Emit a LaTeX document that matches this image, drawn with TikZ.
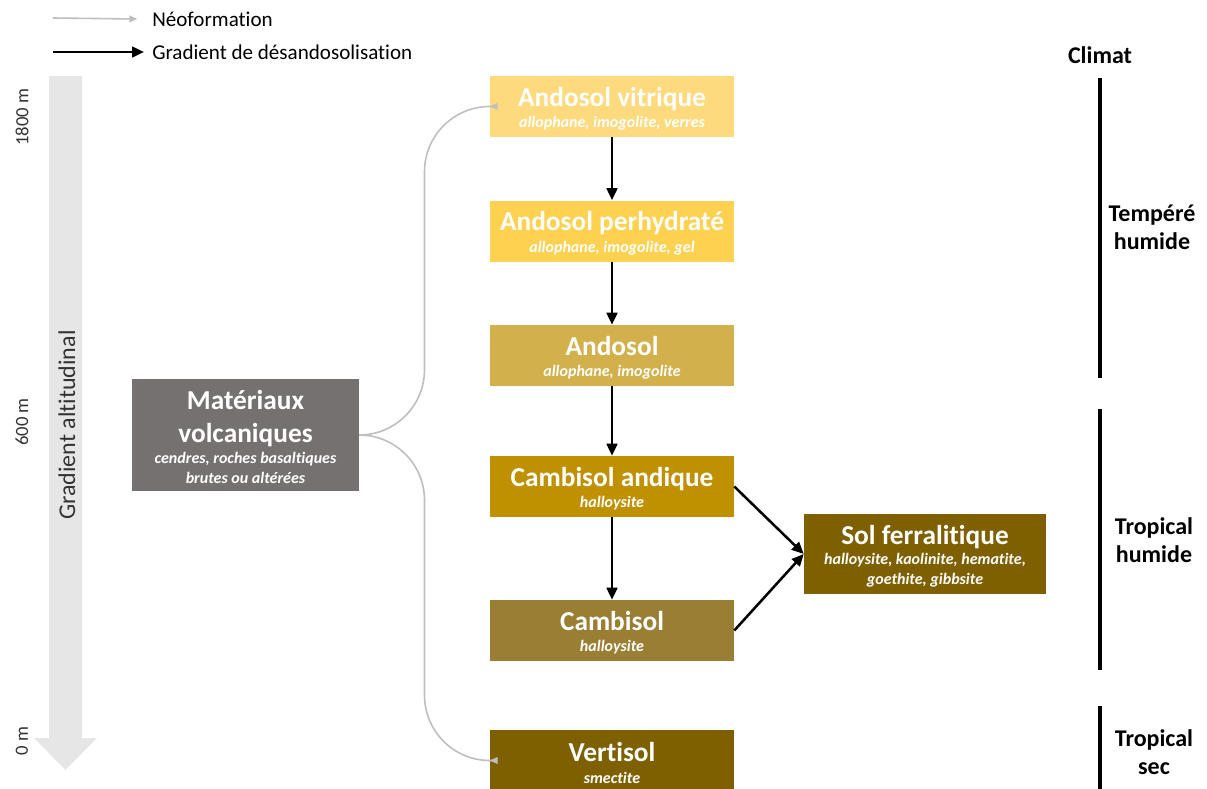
\documentclass[tikz,border=0pt]{standalone}
\usepackage{fontspec}
\setmainfont{Carlito}[Ligatures={NoCommon}]
\usetikzlibrary{arrows.meta,calc}

\definecolor{vitC}{RGB}{254,218,126}
\definecolor{perC}{RGB}{255,209,80}
\definecolor{andC}{RGB}{210,176,76}
\definecolor{camaC}{RGB}{191,144,0}
\definecolor{camC}{RGB}{153,126,52}
\definecolor{brunC}{RGB}{127,96,0}
\definecolor{matC}{RGB}{117,113,113}
\definecolor{altC}{RGB}{231,230,230}
\definecolor{neoC}{RGB}{191,191,191}

\newcommand{\boxfont}{\fontsize{12}{15}\selectfont\lineskiplimit=-100pt}
\newcommand{\soiltitle}{\fontsize{20.5}{15}\selectfont\bfseries\rule{0pt}{18pt}}
\newcommand{\soilsub}{\fontsize{12}{15}\selectfont\bfseries\itshape}

\tikzset{
  soilbox/.style={fill=#1, text=white, align=center, inner sep=0pt, font=\boxfont,
    minimum width=183pt, minimum height=45.75pt},
  neo/.style={draw=neoC, line width=1.2pt, -{Triangle[length=6pt,width=5pt]}},
  desand/.style={draw=black, line width=1.9pt, -{Triangle[length=9pt,width=8pt]}},
  climline/.style={line width=2.3pt},
  climlab/.style={font=\fontsize{18}{21}\selectfont\bfseries, align=center},
  alt/.style={font=\fontsize{14}{16}\selectfont, rotate=90, text=black!80},
}

\begin{document}
\begin{tikzpicture}[x=0.75pt,y=-0.75pt]
  \useasboundingbox (0,0) rectangle (1207,789);

  % legende
  \coordinate (l1) at (53,18);
  \coordinate (l2) at (53,52);
  \node[anchor=west, font=\fontsize{15.8}{18}\selectfont, inner sep=0pt] (neolab) at (152,19) {Néoformation};
  \node[anchor=west, font=\fontsize{15.8}{18}\selectfont, inner sep=0pt] (deslab) at (152,52) {Gradient de désandosolisation};
  \draw[neo] (l1) -- ([xshift=-11pt]neolab.west);
  \draw[desand] (l2) -- ([xshift=-6pt]deslab.west);

  % gradient altitudinal
  \fill[altC] (49,76) -- (82,76) -- (82,738) -- (97,738) -- (65.5,770)
              -- (34,738) -- (49,738) -- cycle;
  \node[font=\fontsize{18}{21}\selectfont, rotate=90, text=black!80] (galt) at (67,425) {Gradient altitudinal};
  \node[alt] (a1800) at (22,117) {1800 m};
  \node[alt] (a600) at (22,422) {600 m};
  \node[alt] (a0) at (22,741) {0 m};

  % sols
  \node[soilbox=vitC]  (vit)  at (612,106.5) {{\soiltitle Andosol vitrique}\\[1pt]{\soilsub allophane, imogolite, verres}};
  \node[soilbox=perC]  (per)  at (612,231)   {{\soiltitle Andosol perhydraté}\\[1pt]{\soilsub allophane, imogolite, gel}};
  \node[soilbox=andC]  (ando) at (612,355.5) {{\soiltitle Andosol}\\[1pt]{\soilsub allophane, imogolite}};
  \node[soilbox=camaC] (cama) at (612,486.5) {{\soiltitle Cambisol andique}\\[1pt]{\soilsub halloysite}};
  \node[soilbox=camC]  (camb) at (612,630.5) {{\soiltitle Cambisol}\\[1pt]{\soilsub halloysite}};
  \node[soilbox=brunC] (vert) at (612,760.5) {{\soiltitle Vertisol}\\[1pt]{\soilsub smectite}};
  \node[soilbox=brunC, minimum width=181.5pt, minimum height=60pt] (ferr) at (925,554)
    {{\soiltitle Sol ferralitique}\\{\soilsub halloysite, kaolinite, hematite,}\\{\soilsub goethite, gibbsite}};
  \node[soilbox=matC, minimum width=170.25pt, minimum height=84pt] (mat) at (245.5,435)
    {{\soiltitle Matériaux}\\[9.75pt]{\soiltitle volcaniques}\\[0.75pt]{\soilsub cendres, roches basaltiques}\\{\soilsub brutes ou altérées}};

  % neoformation
  \draw[neo, rounded corners=49pt] (mat.east) -| ($(mat.east)!0.5!(vit.west)$) |- (vit.west);
  \draw[neo, rounded corners=49pt] (mat.east) -| ($(mat.east)!0.5!(vert.west)$) |- (vert.west);

  % desandosolisation
  \draw[desand] (vit) -- (per);
  \draw[desand] (per) -- (ando);
  \draw[desand] (ando) -- (cama);
  \draw[desand] (cama) -- (camb);
  \draw[desand] (cama.east) -- (ferr.west);
  \draw[desand] (camb.east) -- (ferr.west);

  % climat
  \node[climlab] (clim) at (1100,55) {Climat};
  \draw[climline] (1100,78) -- (1100,378);
  \draw[climline] (1100,409) -- (1100,670);
  \draw[climline] (1100,706) -- (1100,795);
  \node[climlab] (temp) at (1152,227) {Tempéré\\humide};
  \node[climlab] (trh) at (1154,540) {Tropical\\humide};
  \node[climlab] (trs) at (1154,752) {Tropical\\sec};
\end{tikzpicture}
\end{document}
